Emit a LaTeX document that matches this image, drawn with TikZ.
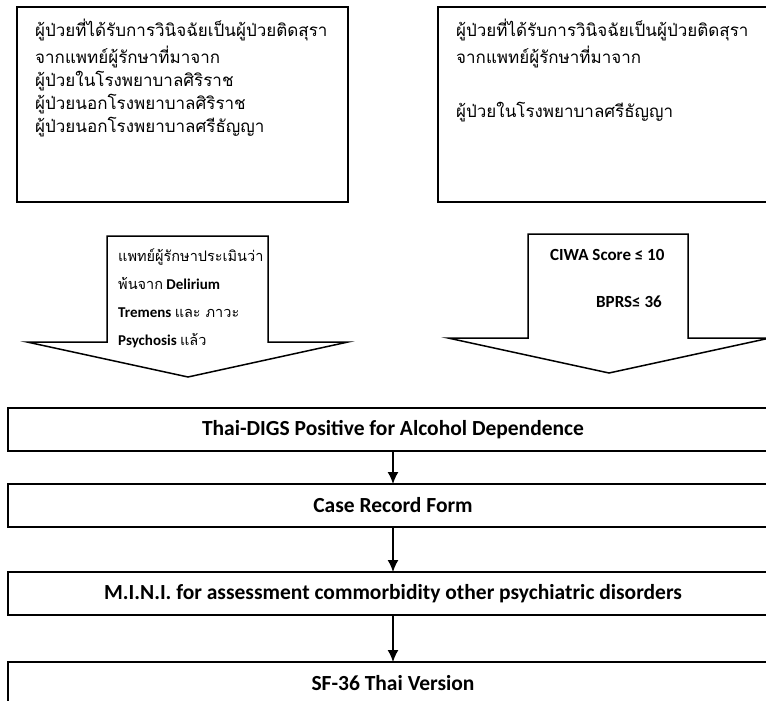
\documentclass[tikz,border=0pt]{standalone}
\usepackage{fontspec}
\setmainfont{Carlito}
\newfontfamily\thaifont[Script=Thai]{Loma}
\usetikzlibrary{arrows.meta,positioning}
\tikzstyle{frame} = [rectangle, draw=black, line width=1.5pt, inner sep=0pt, outer sep=0pt]
\tikzstyle{stage} = [frame, minimum width=770pt, minimum height=43pt, font=\bfseries\fontsize{21.5}{24}\selectfont]
\tikzstyle{thailines} = [anchor=north west, align=left, inner sep=0pt, font=\thaifont\fontsize{17}{23}\selectfont]
\tikzstyle{bigarrow} = [draw=black, line width=1.5pt, fill=white]
\newcommand{\thaitext}[1]{{\thaifont\mdseries\fontsize{14.5}{28}\selectfont #1}}

\begin{document}
\begin{tikzpicture}[x=1pt,y=-1pt,->,>={Latex[length=12pt,width=11pt]}]
    \useasboundingbox (0,0) rectangle (766,701);

        % source boxes
        \node[frame,minimum width=331pt,minimum height=195pt,anchor=north west] (Refer) at (17,7) {};
        \node[frame,minimum width=380pt,minimum height=195pt,anchor=north west] (Inpat) at (438,7) {};
        \node[thailines] (ReferText) at (35,19) {ผู้ป่วยที่ได้รับการวินิจฉัยเป็นผู้ป่วยติดสุรา\\[4pt]
            จากแพทย์ผู้รักษาที่มาจาก\\ผู้ป่วยในโรงพยาบาลศิริราช\\ผู้ป่วยนอกโรงพยาบาลศิริราช\\ผู้ป่วยนอกโรงพยาบาลศรีธัญญา};
        \node[thailines] (InpatText) at (456,19) {ผู้ป่วยที่ได้รับการวินิจฉัยเป็นผู้ป่วยติดสุรา\\[4pt]
            จากแพทย์ผู้รักษาที่มาจาก\\[31pt]ผู้ป่วยในโรงพยาบาลศรีธัญญา};

        % block arrows
        \draw[-,bigarrow] (107,236) -- (268,236) -- (268,342) -- (348,342) -- (188,377) -- (27,342) -- (107,342) -- cycle;
        \draw[-,bigarrow] (528,234) -- (688,234) -- (688,338) -- (770,338) -- (609,373) -- (448,338) -- (528,338) -- cycle;
        \node[anchor=north west,align=left,inner sep=0pt,font=\bfseries\fontsize{15}{28}\selectfont] (Clear) at (118,249)
            {\thaitext{แพทย์ผู้รักษาประเมินว่า}\\\thaitext{พ้นจาก} Delirium\\Tremens \thaitext{และ ภาวะ}\\Psychosis \thaitext{แล้ว}};
        \node[font=\bfseries\fontsize{17}{20}\selectfont,anchor=west,inner sep=0pt] (Ciwa) at (550,255) {CIWA Score ≤ 10};
        \node[font=\bfseries\fontsize{17}{20}\selectfont,anchor=west,inner sep=0pt] (Bprs) at (596,302) {BPRS≤ 36};

        % assessment chain
        \node[stage] (Digs) at (393,429.5) {Thai-DIGS Positive for Alcohol Dependence};
        \node[stage] (Crf) [below=33pt of Digs] {Case Record Form};
        \node[stage] (Mini) [below=45pt of Crf] {M.I.N.I. for assessment commorbidity other psychiatric disorders};
        \node[stage] (Sf) [below=47pt of Mini] {SF-36 Thai Version};

        \path[line width=1.5pt] (Digs) edge (Crf)
              (Crf)  edge (Mini)
              (Mini) edge (Sf);
\end{tikzpicture}
\end{document}
